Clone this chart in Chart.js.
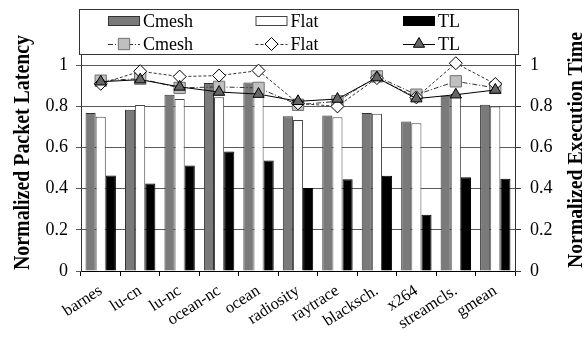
<!DOCTYPE html>
<html>
<head>
<meta charset="utf-8">
<script src="https://cdn.jsdelivr.net/npm/chart.js@4.4.0/dist/chart.umd.min.js"></script>
<style>
  html, body { margin: 0; padding: 0; background: #fff; }
  #wrap { width: 584px; height: 337px; position: relative; }
</style>
</head>
<body>
<div id="wrap"><canvas id="c" width="584" height="337"></canvas></div>
<script>
const categories = ['barnes','lu-cn','lu-nc','ocean-nc','ocean','radiosity','raytrace','blacksch.','x264','streamcls.','gmean'];
const latCmesh = [0.768,0.784,0.857,0.914,0.916,0.752,0.756,0.768,0.727,0.852,0.808];
const latFlat  = [0.750,0.807,0.836,0.845,0.912,0.734,0.747,0.765,0.718,0.860,0.800];
const latTL    = [0.464,0.425,0.513,0.581,0.537,0.403,0.446,0.463,0.274,0.456,0.448];
const execCmesh = [0.925,0.935,0.890,0.895,0.890,0.808,0.825,0.946,0.857,0.922,0.890];
const execFlat  = [0.910,0.971,0.945,0.950,0.974,0.815,0.800,0.938,0.844,1.010,0.909];
const execTL    = [0.920,0.930,0.895,0.870,0.860,0.825,0.836,0.940,0.838,0.857,0.880];
const tickValues = [0, 0.2, 0.4, 0.6, 0.8, 1];
const tickLabels = ['0', '0.2', '0.4', '0.6', '0.8', '1'];
const seriesNames = ['Cmesh', 'Flat', 'TL'];
const leftTitle = 'Normalized Packet Latency';
const rightTitle = 'Normalized Execution Time';

const FONT = '"Liberation Serif", "Times New Roman", Times, serif';
Chart.defaults.font.family = FONT;
Chart.defaults.color = '#000';

const lineBase = { type: 'line', yAxisID: 'y2', borderWidth: 1, pointBorderWidth: 1, fill: false, tension: 0 };

const datasets = [
  { type: 'bar', label: seriesNames[0], data: latCmesh, backgroundColor: '#7a7a7a', borderColor: '#333', borderWidth: 1, yAxisID: 'y', order: 10 },
  { type: 'bar', label: seriesNames[1], data: latFlat, backgroundColor: '#fff', borderColor: '#444', borderWidth: 1, yAxisID: 'y', order: 10 },
  { type: 'bar', label: seriesNames[2], data: latTL, backgroundColor: '#000', borderColor: '#000', borderWidth: 1, yAxisID: 'y', order: 10 },
  Object.assign({}, lineBase, { label: seriesNames[0], data: execCmesh, borderColor: '#333', borderDash: [5,2,1,2],
      pointStyle: 'rect', pointRadius: 8, pointBackgroundColor: '#c0c0c0', pointBorderColor: '#707070', order: 3 }),
  Object.assign({}, lineBase, { label: seriesNames[1], data: execFlat, borderColor: '#333', borderDash: [3,2],
      pointStyle: 'rectRot', pointRadius: 6.5, pointBackgroundColor: '#fff', pointBorderColor: '#000', order: 2 }),
  Object.assign({}, lineBase, { label: seriesNames[2], data: execTL, borderColor: '#000', borderDash: [],
      pointStyle: 'triangle', pointRadius: 6.5, pointBackgroundColor: '#666', pointBorderColor: '#000', order: 1 })
];

function setTicks(scale) { scale.ticks = tickValues.map(v => ({ value: v })); }
function fmt(v) { const i = tickValues.findIndex(t => Math.abs(t - v) < 1e-6); return i >= 0 ? tickLabels[i] : ''; }

const customPlugin = {
  id: 'custom',
  afterDraw(chart) {
    const ctx = chart.ctx;
    ctx.save();
    const lx = 79, ly = 9, lw = 440, lh = 46;
    ctx.fillStyle = '#fff';
    ctx.fillRect(lx, ly, lw, lh);
    ctx.strokeStyle = '#333';
    ctx.lineWidth = 1;
    ctx.strokeRect(lx + 0.5, ly + 0.5, lw - 1, lh - 1);
    const cols = [108, 255.5, 403];
    const rows = [21, 44];
    ctx.font = '18px ' + FONT;
    ctx.textBaseline = 'middle';
    ctx.textAlign = 'left';
    chart.data.datasets.forEach((ds, i) => {
      const col = cols[i % 3];
      const row = rows[Math.floor(i / 3)];
      if (ds.type === 'bar') {
        ctx.fillStyle = ds.backgroundColor;
        ctx.fillRect(col, row - 5, 32, 10);
        ctx.strokeStyle = ds.borderColor;
        ctx.lineWidth = 1;
        ctx.strokeRect(col + 0.5, row - 4.5, 31, 9);
      } else {
        ctx.strokeStyle = ds.borderColor;
        ctx.lineWidth = 1;
        ctx.setLineDash(ds.borderDash || []);
        ctx.beginPath();
        ctx.moveTo(col, row + 0.5);
        ctx.lineTo(col + 32, row + 0.5);
        ctx.stroke();
        ctx.setLineDash([]);
        ctx.fillStyle = ds.pointBackgroundColor;
        ctx.strokeStyle = ds.pointBorderColor;
        Chart.helpers.drawPoint(ctx, { pointStyle: ds.pointStyle, radius: ds.pointRadius, rotation: 0, borderWidth: 1 }, col + 16, row);
      }
      ctx.fillStyle = '#000';
      ctx.fillText(ds.label, col + 35, row + 1);
    });
    ctx.restore();

    const drawTitle = (text, bx, cy, len, size) => {
      ctx.save();
      ctx.font = 'bold ' + size + 'px ' + FONT;
      const w = ctx.measureText(text).width;
      ctx.translate(bx, cy);
      ctx.rotate(-Math.PI / 2);
      ctx.scale(len / w, 1);
      ctx.textAlign = 'center';
      ctx.textBaseline = 'alphabetic';
      ctx.fillStyle = '#000';
      ctx.fillText(text, 0, 0);
      ctx.restore();
    };
    drawTitle(leftTitle, 28.5, 152.5, 235, 23);
    drawTitle(rightTitle, 581.5, 150, 236, 21);
  }
};

new Chart(document.getElementById('c'), {
  type: 'bar',
  data: { labels: categories, datasets },
  options: {
    responsive: false,
    animation: false,
    devicePixelRatio: 1,
    layout: { padding: { top: 55, left: 0, right: 0, bottom: 0 } },
    datasets: { bar: { categoryPercentage: 0.77, barPercentage: 1.0 } },
    plugins: { legend: { display: false }, tooltip: { enabled: false }, title: { display: false } },
    scales: {
      x: {
        offset: true,
        grid: { offset: true, drawOnChartArea: false, drawTicks: true, tickLength: 5, color: '#000', lineWidth: 1 },
        border: { display: true, color: '#000', width: 1 },
        ticks: { autoSkip: false, minRotation: 33, maxRotation: 33, padding: 5, labelOffset: 0, font: { size: 16.5 }, color: '#000' },
        afterFit(s) { s.height = 66; }
      },
      y: {
        position: 'left', min: 0, max: 1.05,
        afterBuildTicks: setTicks,
        grid: { color: '#5a5a5a', lineWidth: 1, tickLength: 5, drawTicks: true },
        border: { display: true, color: '#333', width: 1 },
        ticks: { padding: 8, font: { size: 18 }, color: '#000', callback: fmt },
        afterFit(s) { s.width = 81; }
      },
      y2: {
        position: 'right', min: 0, max: 1.05,
        afterBuildTicks: setTicks,
        grid: { drawOnChartArea: false, color: '#333', tickLength: 6, drawTicks: true },
        border: { display: true, color: '#333', width: 1 },
        ticks: { padding: 9, font: { size: 18 }, color: '#000', callback: fmt },
        afterFit(s) { s.width = 69; }
      }
    }
  },
  plugins: [customPlugin]
});
</script>
</body>
</html>
